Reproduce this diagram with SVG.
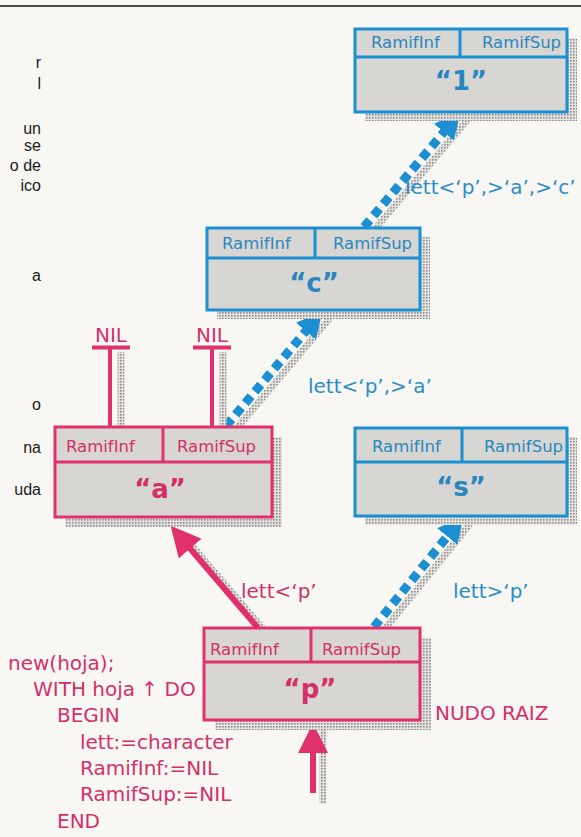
<svg xmlns="http://www.w3.org/2000/svg" width="581" height="837" viewBox="0 0 581 837">
<defs>
<pattern id="dots" width="3" height="3" patternUnits="userSpaceOnUse"><rect width="3" height="3" fill="#e4e3e0"/><rect width="1.6" height="1.6" fill="#8c8c8c"/></pattern>
<marker id="headBlue" viewBox="0 -13 26 26" refX="1" refY="0" markerWidth="26" markerHeight="26" markerUnits="userSpaceOnUse" orient="auto"><path d="M0,-13 L26,0 L0,13 Z" fill="#1b8fd2"/></marker>
<marker id="headPink" viewBox="0 -15 30 30" refX="1" refY="0" markerWidth="30" markerHeight="30" markerUnits="userSpaceOnUse" orient="auto"><path d="M0,-15 L30,0 L0,15 Z" fill="#e0306e"/></marker>
</defs>
<style>
.bg{fill:#f8f7f4}
.shadow{fill:url(#dots)}
.cell{fill:#d8d6d2}
.blue .frame{fill:none;stroke:#1b8fd2;stroke-width:3}
.pink .frame{fill:none;stroke:#e0306e;stroke-width:3}
.hdr{font-family:"DejaVu Sans",sans-serif;font-size:16.5px}
.blue .hdr,.blue .lbl{fill:#2a86bf}
.pink .hdr,.pink .lbl{fill:#d42f68}
.lbl{font-family:"DejaVu Sans",sans-serif;font-size:26px;font-weight:bold;text-anchor:middle}
.edgeb{fill:#2a8cc8;font-family:"DejaVu Sans",sans-serif;font-size:20px}
.edgep{fill:#d42f68;font-family:"DejaVu Sans",sans-serif;font-size:20px}
.code{fill:#d42f68;font-family:"DejaVu Sans",sans-serif;font-size:20px}
.frag{fill:#1a1a1a;font-family:"Liberation Sans",Arial,sans-serif;font-size:16px;text-anchor:end}
.dash{fill:none;stroke:#1b8fd2;stroke-width:9;stroke-dasharray:9 6;marker-end:url(#headBlue)}
.solidp{fill:none;stroke:#e0306e;stroke-width:6;marker-end:url(#headPink)}
.sh{fill:none;stroke:url(#dots);stroke-width:7}
.nil{stroke:#e0306e;fill:none}
</style>
<rect class="bg" width="581" height="837"/>
<line x1="0" y1="6" x2="581" y2="6" stroke="#4a4a4a" stroke-width="2"/>

<g id="fragments">
<text class="frag" x="41" y="68">r</text>
<text class="frag" x="41" y="89">l</text>
<text class="frag" x="41" y="134">un</text>
<text class="frag" x="41" y="151">se</text>
<text class="frag" x="41" y="171">o de</text>
<text class="frag" x="41" y="191">ico</text>
<text class="frag" x="41" y="281">a</text>
<text class="frag" x="41" y="410">o</text>
<text class="frag" x="41" y="453">na</text>
<text class="frag" x="41" y="495">uda</text>
</g>

<g id="connectors">
<line class="sh" x1="384" y1="630" x2="470" y2="524"/>
<line class="sh" x1="236" y1="429" x2="330" y2="318"/>
<line class="sh" x1="374" y1="230" x2="468" y2="119"/>
<line class="sh" x1="264" y1="630" x2="192" y2="546"/>
<line class="sh" x1="323" y1="725" x2="323" y2="804"/>
<line class="dash" x1="374" y1="627" x2="447.9" y2="535.7"/>
<line class="dash" x1="226" y1="426" x2="306.5" y2="330.4"/>
<line class="dash" x1="364" y1="227" x2="444.5" y2="131.4"/>
<line class="solidp" x1="258" y1="628" x2="189.5" y2="547.8"/>
<line class="solidp" x1="313" y1="793" x2="313" y2="752"/>
<text class="edgeb" x="405" y="194">lett&lt;‘p’,&gt;‘a’,&gt;‘c’</text>
<text class="edgeb" x="308" y="393">lett&lt;‘p’,&gt;‘a’</text>
<text class="edgep" x="241" y="598">lett&lt;‘p’</text>
<text class="edgeb" x="453" y="598">lett&gt;‘p’</text>
</g>

<g id="nil">
<line class="sh" x1="121" y1="352" x2="121" y2="427" stroke-width="3"/>
<line class="sh" x1="223" y1="352" x2="223" y2="427" stroke-width="3"/>
<line class="nil" x1="110" y1="349" x2="110" y2="428" stroke-width="4"/>
<line class="nil" x1="212" y1="349" x2="212" y2="428" stroke-width="4"/>
<line class="nil" x1="92" y1="347.5" x2="130" y2="347.5" stroke-width="4"/>
<line class="nil" x1="193" y1="347.5" x2="231" y2="347.5" stroke-width="4"/>
<text class="edgep" x="111" y="342" text-anchor="middle" font-size="21">NIL</text>
<text class="edgep" x="212" y="342" text-anchor="middle" font-size="21">NIL</text>
</g>

<g id="node-1" class="blue">
<rect class="shadow" x="365" y="38" width="212" height="83"/>
<rect class="cell" x="355" y="29" width="212" height="83"/>
<rect class="frame" x="355" y="29" width="212" height="83"/>
<line class="frame" x1="355" y1="57" x2="567" y2="57"/>
<line class="frame" x1="460" y1="29" x2="460" y2="57"/>
<text class="hdr" x="371" y="48">RamifInf</text>
<text class="hdr" x="482" y="48">RamifSup</text>
<text class="lbl" x="461" y="90">“1”</text>
</g>

<g id="node-c" class="blue">
<rect class="shadow" x="217" y="237" width="213" height="82"/>
<rect class="cell" x="207" y="228" width="213" height="82"/>
<rect class="frame" x="207" y="228" width="213" height="82"/>
<line class="frame" x1="207" y1="258" x2="420" y2="258"/>
<line class="frame" x1="315" y1="228" x2="315" y2="258"/>
<text class="hdr" x="222" y="249">RamifInf</text>
<text class="hdr" x="333" y="249">RamifSup</text>
<text class="lbl" x="314" y="292">“c”</text>
</g>

<g id="node-a" class="pink">
<rect class="shadow" x="65" y="437" width="217" height="90"/>
<rect class="cell" x="55" y="427" width="217" height="90"/>
<rect class="frame" x="55" y="427" width="217" height="90"/>
<line class="frame" x1="55" y1="462" x2="272" y2="462"/>
<line class="frame" x1="163" y1="427" x2="163" y2="462"/>
<text class="hdr" x="66" y="452">RamifInf</text>
<text class="hdr" x="177" y="452">RamifSup</text>
<text class="lbl" x="160" y="498">“a”</text>
</g>

<g id="node-s" class="blue">
<rect class="shadow" x="365" y="437" width="212" height="88"/>
<rect class="cell" x="355" y="428" width="212" height="88"/>
<rect class="frame" x="355" y="428" width="212" height="88"/>
<line class="frame" x1="355" y1="462" x2="567" y2="462"/>
<line class="frame" x1="462" y1="428" x2="462" y2="462"/>
<text class="hdr" x="372" y="452">RamifInf</text>
<text class="hdr" x="484" y="452">RamifSup</text>
<text class="lbl" x="461" y="496">“s”</text>
</g>

<g id="node-p" class="pink">
<rect class="shadow" x="215" y="638" width="216" height="92"/>
<rect class="cell" x="204" y="628" width="216" height="92"/>
<rect class="frame" x="204" y="628" width="216" height="92"/>
<line class="frame" x1="204" y1="662" x2="420" y2="662"/>
<line class="frame" x1="311" y1="628" x2="311" y2="662"/>
<text class="hdr" x="210" y="655">RamifInf</text>
<text class="hdr" x="322" y="655">RamifSup</text>
<text class="lbl" x="310" y="698">“p”</text>
<text class="edgep" x="435" y="720" font-size="21">NUDO RAIZ</text>
</g>

<g id="code">
<text class="code" x="8" y="670">new(hoja);</text>
<text class="code" x="33" y="696">WITH hoja ↑ DO</text>
<text class="code" x="57" y="722">BEGIN</text>
<text class="code" x="80" y="749">lett:=character</text>
<text class="code" x="80" y="775">RamifInf:=NIL</text>
<text class="code" x="80" y="801">RamifSup:=NIL</text>
<text class="code" x="57" y="828">END</text>
</g>
</svg>
